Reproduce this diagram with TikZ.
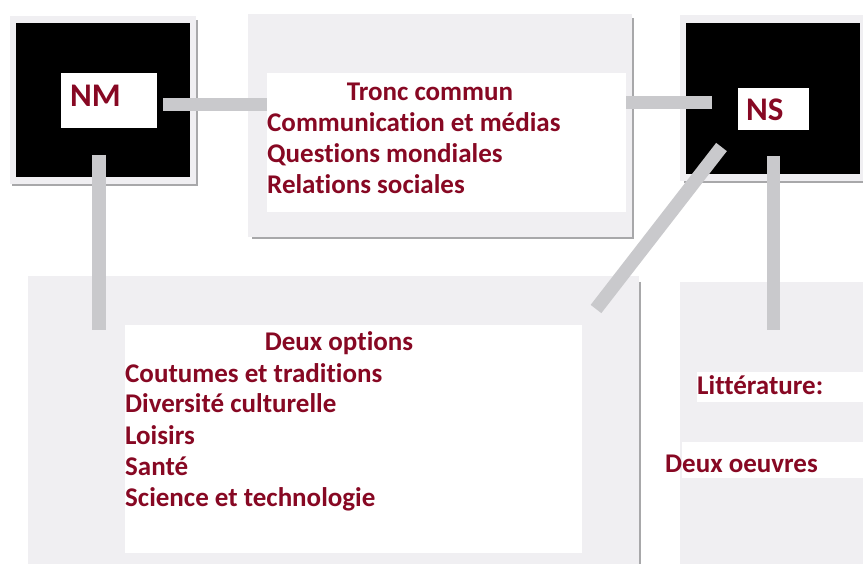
\documentclass[tikz,border=0pt]{standalone}
\usepackage{fontspec}
\setmainfont[Ligatures={NoCommon}]{Carlito}
\usetikzlibrary{calc}
\definecolor{txt}{RGB}{135,8,35}
\definecolor{panel}{RGB}{240,239,242}
\definecolor{conn}{RGB}{201,201,204}
\definecolor{shade}{RGB}{168,168,170}
\begin{document}
\begin{tikzpicture}[x=1pt,y=-1pt,
  box/.style={draw=none,inner sep=0pt,outer sep=0pt,rectangle},
  panelbox/.style={box,fill=panel},
  blackbox/.style={box,fill=black},
  whitebox/.style={box,fill=white},
  shadowline/.style={draw=shade,line width=2pt},
  connector/.style={draw=conn,line width=13.5pt},
  lbl/.style={font=\fontsize{27}{31}\selectfont\bfseries,text=txt,inner sep=0pt,anchor=base west},
  head/.style={lbl,anchor=base},
  big/.style={font=\fontsize{33}{36}\selectfont\bfseries,text=txt,inner sep=0pt,anchor=base west}
]
\useasboundingbox (0,0) rectangle (863,564);
\fill[white] (0,0) rectangle (863,564);

% ---- panels ----
\node[panelbox,minimum width=186pt,minimum height=168pt] (nmframe) at (103,100) {};
\draw[shadowline] (12,185) -- (197,185) -- (197,20);
\node[blackbox,minimum width=174pt,minimum height=154pt] (nmblack) at (103,100) {};

\node[panelbox,minimum width=384pt,minimum height=223pt] (troncpanel) at (440,125.5) {};
\draw[shadowline] (252,238) -- (633,238) -- (633,18);

\node[panelbox,minimum width=183pt,minimum height=166pt] (nsframe) at (771.5,98) {};
\node[blackbox,minimum width=174pt,minimum height=151pt] (nsblack) at (773,98.5) {};
\draw[shadowline] (684,182) -- (863,182);

\node[panelbox,minimum width=611pt,minimum height=288pt] (dlpanel) at (333.5,420) {};
\draw[shadowline] (640,282) -- (640,564);

\node[panelbox,minimum width=183pt,minimum height=282pt] (brpanel) at (771.5,423) {};

% ---- white boxes ----
\node[whitebox,minimum width=96pt,minimum height=55pt] (nmlab) at (109,100.5) {};
\node[whitebox,minimum width=71pt,minimum height=42pt] (nslab) at (773.5,109) {};
\node[whitebox,minimum width=359pt,minimum height=139pt] (troncw) at (446.5,142.5) {};
\node[whitebox,minimum width=457pt,minimum height=228pt] (deuxw) at (353.5,439) {};
\node[whitebox,minimum width=166pt,minimum height=30pt] (litw) at (780,387) {};
\node[whitebox,minimum width=181pt,minimum height=36pt] (oeuvw) at (772.5,460) {};

% ---- connectors ----
\draw[connector] ($(nmlab.east)+(6,4)$) -- ($(nmlab.east -| troncw.west)+(0,4)$);
\draw[connector] ($(troncw.east |- nslab.west)+(0,-6.5)$) -- ($(nslab.west)+(-26,-6.5)$);
\draw[connector] ($(nslab.south)+(-52,17)$) -- ($(dlpanel.north east)+(-43,33)$);
\draw[connector] ($(nslab.south)+(0,26)$) -- ($(nslab.south |- brpanel.north)+(0,48)$);
\draw[connector] ($(nmlab.south)+(-10,27)$) -- ($(nmlab.south |- dlpanel.north)+(-10,54)$);

% ---- texts ----
\node[big] (nmtext) at (70,107) {NM};
\node[big] (nstext) at (746,121) {NS};

\node[head] (tronc) at (430,101) {Tronc commun};
\node[lbl] (t1) at (267,132) {Communication et médias};
\node[lbl] (t2) at (267,163) {Questions mondiales};
\node[lbl] (t3) at (267,194) {Relations sociales};

\node[head] (deux) at (339,351) {Deux options};
\node[lbl] (d1) at (125,382) {Coutumes et traditions};
\node[lbl] (d2) at (125,413) {Diversité culturelle};
\node[lbl] (d3) at (125,444) {Loisirs};
\node[lbl] (d4) at (125,475) {Santé};
\node[lbl] (d5) at (125,506) {Science et technologie};

\node[lbl] (lit) at (697,395) {Littérature:};
\node[lbl] (oeuv) at (665,472) {Deux oeuvres};
\end{tikzpicture}
\end{document}
